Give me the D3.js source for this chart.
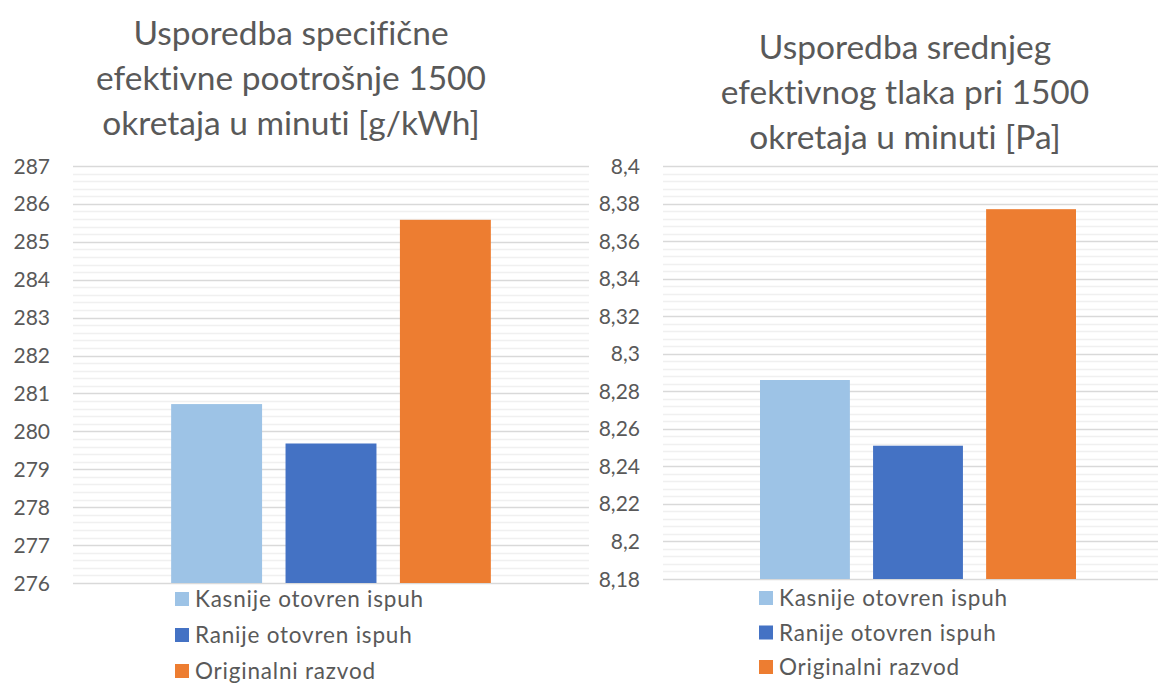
<!DOCTYPE html>
<html>
<head>
<meta charset="utf-8">
<script src="https://cdn.jsdelivr.net/npm/d3@7"></script>
<style>
  body { margin: 0; background: #fff; }
  svg { display: block; font-family: Lato, "Open Sans", sans-serif; font-variant-ligatures: none; }
  .tick-label { fill: #595959; font-size: 21px; }
  .title { fill: #595959; font-size: 33.5px; }
  .legend-label { fill: #595959; font-size: 22.5px; letter-spacing: 0.8px; }
</style>
</head>
<body>
<svg id="chart" width="1158" height="684"></svg>
<script>
// series shown in both charts
const seriesNames = ["Kasnije otovren ispuh", "Ranije otovren ispuh", "Originalni razvod"];
const seriesColors = ["#9DC3E6", "#4472C4", "#ED7D31"];

// left chart: specific effective consumption [g/kWh]
const consumptionTitle = ["Usporedba specifične", "efektivne pootrošnje 1500", "okretaja u minuti [g/kWh]"];
const consumptionValues = [280.72, 279.68, 285.58];
const consumptionTicks = [276, 277, 278, 279, 280, 281, 282, 283, 284, 285, 286, 287];

// right chart: mean effective pressure [Pa]
const pressureTitle = ["Usporedba srednjeg", "efektivnog tlaka pri 1500", "okretaja u minuti [Pa]"];
const pressureValues = [8.286, 8.251, 8.377];
const pressureTicks = [8.18, 8.2, 8.22, 8.24, 8.26, 8.28, 8.3, 8.32, 8.34, 8.36, 8.38, 8.4];

const svg = d3.select("#chart");

function drawChart(cfg) {
    const g = svg.append("g");
    const ticks = cfg.ticks;

    const y = d3.scaleLinear()
        .domain([ticks[0], ticks[ticks.length - 1]])
        .range([cfg.bottom, cfg.top]);

    // one category, three series inside it
    const xCat = d3.scaleBand().domain(["c"]).range([cfg.left, cfg.right]).paddingOuter(0.307);
    const xSer = d3.scaleBand().domain(seriesNames)
        .range([xCat("c"), xCat("c") + xCat.bandwidth()])
        .paddingInner(0.205);

    // minor gridlines, 5 steps per major interval
    const minor = [];
    for (let i = 0; i < ticks.length - 1; i++) {
        const step = (ticks[i + 1] - ticks[i]) / 5;
        for (let k = 1; k < 5; k++) minor.push(ticks[i] + step * k);
    }
    g.selectAll("line.minor")
        .data(minor)
        .enter().append("line")
        .attr("x1", cfg.left).attr("x2", cfg.right)
        .attr("y1", d => Math.round(y(d)) + 0.5).attr("y2", d => Math.round(y(d)) + 0.5)
        .attr("stroke", "#f0f0f0").attr("stroke-width", 1.3);

    g.selectAll("line.major")
        .data(ticks)
        .enter().append("line")
        .attr("x1", cfg.left).attr("x2", cfg.right)
        .attr("y1", d => Math.round(y(d)) + 0.5).attr("y2", d => Math.round(y(d)) + 0.5)
        .attr("stroke", "#d9d9d9").attr("stroke-width", 1.3);

    g.selectAll("text.tick-label")
        .data(ticks)
        .enter().append("text")
        .attr("class", "tick-label")
        .attr("x", cfg.left - 23)
        .attr("y", d => y(d))
        .attr("dy", "0.36em")
        .attr("text-anchor", "end")
        .text(cfg.fmt);

    g.selectAll("rect.bar")
        .data(cfg.values)
        .enter().append("rect")
        .attr("class", "bar")
        .attr("x", (d, i) => xSer(seriesNames[i]))
        .attr("y", d => y(d))
        .attr("width", xSer.bandwidth())
        .attr("height", d => y(ticks[0]) - y(d))
        .attr("fill", (d, i) => seriesColors[i]);

    g.selectAll("text.title")
        .data(cfg.title)
        .enter().append("text")
        .attr("class", "title")
        .attr("x", cfg.titleX)
        .attr("y", (d, i) => cfg.titleY + i * 45)
        .attr("text-anchor", "middle")
        .text(d => d);

    const leg = g.selectAll("g.legend")
        .data(seriesNames)
        .enter().append("g")
        .attr("transform", (d, i) => `translate(${cfg.legendX},${cfg.legendY + i * cfg.legendStep})`);
    leg.append("rect")
        .attr("x", 0).attr("y", -7)
        .attr("width", 14).attr("height", 14)
        .attr("fill", (d, i) => seriesColors[i]);
    leg.append("text")
        .attr("class", "legend-label")
        .attr("x", 20)
        .attr("dy", "0.36em")
        .text(d => d);
}

drawChart({
    title: consumptionTitle, values: consumptionValues, ticks: consumptionTicks,
    fmt: d => String(d),
    left: 73, right: 589, top: 166, bottom: 583,
    titleX: 291, titleY: 45,
    legendX: 175, legendY: 599, legendStep: 36
});

drawChart({
    title: pressureTitle, values: pressureValues, ticks: pressureTicks,
    fmt: d => String(+d.toFixed(2)).replace(".", ","),
    left: 663, right: 1173, top: 166, bottom: 579,
    titleX: 905, titleY: 59,
    legendX: 759, legendY: 598, legendStep: 34.5
});
</script>
</body>
</html>
